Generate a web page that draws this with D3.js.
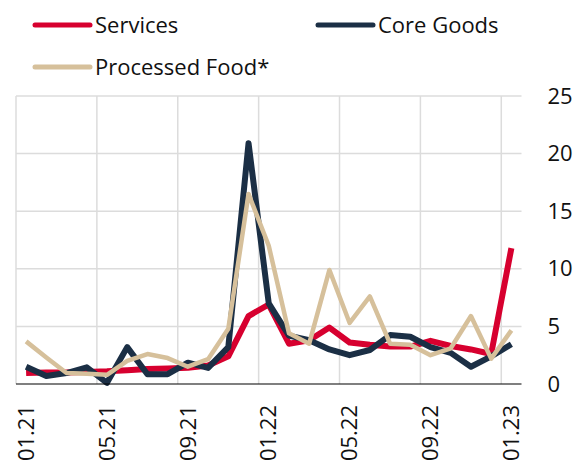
<!DOCTYPE html>
<html>
<head>
<meta charset="utf-8">
<script src="https://cdn.jsdelivr.net/npm/d3@7"></script>
<style>
  body { margin: 0; background: #fff; }
  text { font-family: "Open Sans", "Noto Sans", sans-serif; fill: #111; }
</style>
</head>
<body>
<div id="chart"></div>
<script>
// months shown on the x axis
const months = ["01.21","02.21","03.21","04.21","05.21","06.21","07.21","08.21","09.21","10.21","11.21","12.21",
  "01.22","02.22","03.22","04.22","05.22","06.22","07.22","08.22","09.22","10.22","11.22","12.22","01.23"];
const tickMonths = ["01.21","05.21","09.21","01.22","05.22","09.22","01.23"];
const yTicks = [0, 5, 10, 15, 20, 25];

// series values
const services = [0.95, 1.0, 1.0, 1.05, 1.1, 1.2, 1.3, 1.35, 1.4, 1.6, 2.4, 5.9, 6.9,
  3.5, 3.8, 4.9, 3.6, 3.4, 3.25, 3.25, 3.75, 3.3, 3.0, 2.6, 11.8];
const coreGoods = [1.5, 0.7, 0.95, 1.45, 0.1, 3.2, 0.85, 0.85, 1.85, 1.4, 3.2, 20.9, 7.0,
  4.2, 3.8, 3.0, 2.5, 2.95, 4.25, 4.1, 3.2, 2.7, 1.5, 2.4, 3.45];
const processedFood = [3.7, 2.3, 0.95, 0.9, 0.8, 2.0, 2.6, 2.25, 1.5, 2.15, 4.8, 16.5, 12.0,
  4.4, 3.5, 9.9, 5.3, 7.6, 3.5, 3.4, 2.5, 3.1, 5.9, 2.2, 4.65];

const seriesNames = ["Services", "Core Goods", "Processed Food*"];
const seriesValues = [services, coreGoods, processedFood];
const seriesColors = ["#d7002f", "#1b2f45", "#d6c09b"];
const seriesWidths = [6, 6, 4.5];

var width = 575;
var height = 468;
var plot = { left: 16, right: 521.5, top: 96, bottom: 384 };

var svg = d3.select("#chart")
  .append("svg")
  .attr("width", width)
  .attr("height", height);

// scales
var x = d3.scaleBand()
  .domain(months)
  .range([plot.left, plot.right]);

var y = d3.scaleLinear()
  .domain([0, 25])
  .range([plot.bottom, plot.top]);

// horizontal grid
svg.append("g")
  .selectAll("line")
  .data(yTicks.filter(function(d) { return d > 0; }))
  .enter()
  .append("line")
  .attr("x1", plot.left)
  .attr("x2", plot.right)
  .attr("y1", function(d) { return y(d); })
  .attr("y2", function(d) { return y(d); })
  .attr("stroke", "#dcdcdc")
  .attr("stroke-width", 1.5);

// vertical grid at the start of every 4th month
svg.append("g")
  .selectAll("line")
  .data(tickMonths)
  .enter()
  .append("line")
  .attr("x1", function(d) { return x(d); })
  .attr("x2", function(d) { return x(d); })
  .attr("y1", plot.top)
  .attr("y2", plot.bottom)
  .attr("stroke", "#dcdcdc")
  .attr("stroke-width", 1.5);

// y labels on the right
var yAxis = svg.append("g")
  .attr("transform", "translate(" + (plot.right + 26) + ",0)")
  .call(d3.axisRight(y).tickValues(yTicks).tickSize(0).tickPadding(0));
yAxis.select(".domain").remove();
yAxis.selectAll("text")
  .attr("font-size", 22)
  .attr("font-family", "'Open Sans', sans-serif")
  .attr("fill", "#111");

// x labels, rotated
svg.append("g")
  .selectAll("text")
  .data(tickMonths)
  .enter()
  .append("text")
  .attr("transform", function(d) {
    return "translate(" + (x(d) + x.bandwidth() / 2) + ",405) rotate(-90)";
  })
  .attr("text-anchor", "end")
  .attr("dy", "0.35em")
  .attr("font-size", 22)
  .text(function(d) { return d; });

// series lines
var line = d3.line()
  .x(function(d, i) { return x(months[i]) + x.bandwidth() / 2; })
  .y(function(d) { return y(d); });

for (let i = 0; i < seriesValues.length; i++) {
  svg.append("path")
    .datum(seriesValues[i])
    .attr("fill", "none")
    .attr("stroke", seriesColors[i])
    .attr("stroke-width", seriesWidths[i])
    .attr("stroke-linejoin", "round")
    .attr("d", line);
}

// base line
svg.append("line")
  .attr("x1", plot.left)
  .attr("x2", plot.right)
  .attr("y1", y(0))
  .attr("y2", y(0))
  .attr("stroke", "#000")
  .attr("stroke-width", 1.2);

// legend
var legendPos = [[35, 25], [318, 25], [35, 67]];
for (let i = 0; i < seriesNames.length; i++) {
  var g = svg.append("g")
    .attr("transform", "translate(" + legendPos[i][0] + "," + legendPos[i][1] + ")");
  g.append("line")
    .attr("x1", 0)
    .attr("x2", 55)
    .attr("stroke", seriesColors[i])
    .attr("stroke-width", 5)
    .attr("stroke-linecap", "round");
  g.append("text")
    .attr("x", 60)
    .attr("dy", "0.35em")
    .attr("font-size", 22)
    .text(seriesNames[i]);
}
</script>
</body>
</html>
